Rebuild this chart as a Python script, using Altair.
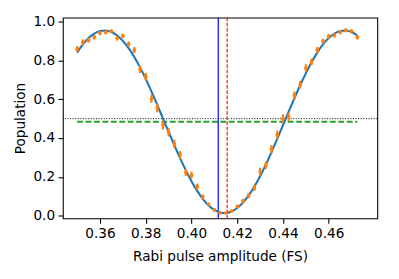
import altair as alt
import pandas as pd

# measured amplitudes (FS)
amp = [0.35 + 0.0025 * i for i in range(50)]
pop = [0.858, 0.894, 0.904, 0.919, 0.940, 0.945, 0.950, 0.914, 0.926, 0.884,
       0.853, 0.754, 0.716, 0.602, 0.555, 0.467, 0.430, 0.371, 0.313, 0.223,
       0.209, 0.150, 0.097, 0.058, 0.030, 0.015, 0.014, 0.024, 0.048, 0.075,
       0.104, 0.143, 0.228, 0.260, 0.343, 0.417, 0.500, 0.509, 0.619, 0.675,
       0.761, 0.792, 0.853, 0.899, 0.924, 0.929, 0.945, 0.955, 0.950, 0.919]
err = [0.016, 0.014, 0.013, 0.012, 0.011, 0.011, 0.010, 0.012, 0.012, 0.014,
       0.016, 0.019, 0.020, 0.021, 0.022, 0.022, 0.022, 0.021, 0.020, 0.018,
       0.018, 0.016, 0.013, 0.010, 0.008, 0.006, 0.006, 0.007, 0.009, 0.012,
       0.014, 0.016, 0.019, 0.019, 0.021, 0.022, 0.022, 0.022, 0.021, 0.020,
       0.019, 0.018, 0.016, 0.013, 0.012, 0.012, 0.011, 0.010, 0.010, 0.012]
fit = [0.840, 0.882, 0.915, 0.938, 0.951, 0.954, 0.946, 0.928, 0.900, 0.863,
       0.817, 0.764, 0.705, 0.640, 0.572, 0.502, 0.432, 0.363, 0.297, 0.235,
       0.178, 0.128, 0.086, 0.053, 0.030, 0.017, 0.014, 0.022, 0.040, 0.068,
       0.105, 0.151, 0.204, 0.263, 0.328, 0.396, 0.466, 0.536, 0.605, 0.671,
       0.733, 0.790, 0.840, 0.882, 0.915, 0.938, 0.951, 0.954, 0.946, 0.928]
x_ticks = [0.36, 0.38, 0.40, 0.42, 0.44, 0.46]
y_ticks = [0.0, 0.2, 0.4, 0.6, 0.8, 1.0]
pi_amp_guess = 0.4117
pi_amp_fit = 0.4156
half_level = 0.5
offset_level = 0.484

df = pd.DataFrame({"amp": amp, "pop": pop, "err": err, "fit": fit})
df["lo"] = df["pop"] - df["err"]
df["hi"] = df["pop"] + df["err"]

FONT = "DejaVu Sans"
xs = alt.Scale(domain=[0.34375, 0.48125], nice=False, zero=False)
ys = alt.Scale(domain=[-0.0137, 1.0202], nice=False, zero=False)
xax = alt.Axis(values=x_ticks, format=".2f", title="Rabi pulse amplitude (FS)", grid=False)
yax = alt.Axis(values=y_ticks, format=".1f", title="Population", grid=False)

base = alt.Chart(df)

errbars = base.mark_rule(color="#ff7f0e", strokeWidth=2.2).encode(
    x=alt.X("amp:Q", scale=xs, axis=xax),
    y=alt.Y("lo:Q", scale=ys, axis=yax),
    y2="hi:Q",
)
points = base.mark_point(color="#ff7f0e", filled=True, size=14, opacity=1).encode(
    x=alt.X("amp:Q", scale=xs), y=alt.Y("pop:Q", scale=ys)
)
curve = base.mark_line(color="#1f77b4", strokeWidth=2.1, interpolate="monotone").encode(
    x=alt.X("amp:Q", scale=xs), y=alt.Y("fit:Q", scale=ys)
)

one = alt.Chart(pd.DataFrame({"k": [0]}))
vblue = one.mark_rule(color="#0000ff", strokeWidth=1.2).encode(
    x=alt.X("v:Q", scale=xs)).transform_calculate(v=str(pi_amp_guess))
vred = one.mark_rule(color="#ff0000", strokeWidth=1.1, strokeDash=[3.7, 1.6]).encode(
    x=alt.X("v:Q", scale=xs)).transform_calculate(v=str(pi_amp_fit))
hblack = one.mark_rule(color="black", strokeWidth=1, strokeDash=[1, 1.65]).encode(
    y=alt.Y("v:Q", scale=ys)).transform_calculate(v=str(half_level))
hgreen = one.mark_rule(color="#2ca02c", strokeWidth=2, strokeDash=[6, 2.6]).encode(
    x=alt.X("a:Q", scale=xs), x2="b:Q", y=alt.Y("v:Q", scale=ys)
).transform_calculate(a=str(amp[0]), b=str(amp[-1]), v=str(offset_level))

chart = alt.layer(hgreen, hblack, vblue, vred, curve, errbars, points).properties(
    width=321, height=205,
    autosize=alt.AutoSizeParams(type="none"),
    padding={"left": 56, "top": 7, "right": 14, "bottom": 59},
).configure_view(stroke="black", strokeWidth=1.1).configure_axis(
    labelFont=FONT, titleFont=FONT, labelFontSize=13.9, titleFontSize=13.9,
    labelColor="black", titleColor="black", titleFontWeight="normal",
    domain=False, tickColor="black", tickSize=4.9, tickWidth=1.1, labelPadding=3.5,
).configure_axisX(titlePadding=10).configure_axisY(titlePadding=6)

chart.save("out.html", embed_options={"renderer": "svg", "actions": False})
